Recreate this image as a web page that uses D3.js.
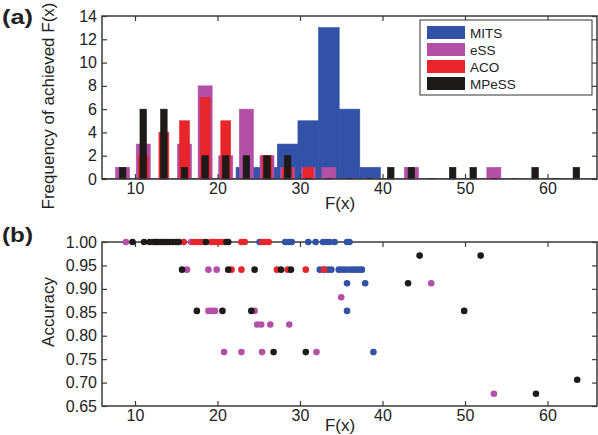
<!DOCTYPE html>
<html><head><meta charset="utf-8">
<script src="https://cdn.jsdelivr.net/npm/d3@7"></script>
<style>
body{margin:0;background:#fff}
svg{display:block}
text{font-family:"Liberation Sans",Arial,Helvetica,sans-serif;fill:#222}
</style>
</head><body>
<svg id="c" width="598" height="435"></svg>
<script>
// ---------- data ----------
const seriesNames = ["MITS", "eSS", "ACO", "MPeSS"];
const binCenters = [6, 8.5, 11, 13.5, 16, 18.5, 21, 23.5, 26, 28.5, 31, 33.5, 36, 38.5, 41, 43.5, 46, 48.5, 51, 53.5, 56, 58.5, 61, 63.5, 66];
const histMITS  = [0, 0, 0, 0, 0, 0, 0, 1, 1, 3, 5, 13, 6, 1, 0, 0, 0, 0, 0, 0, 0, 0, 0, 0, 0];
const histESS   = [0, 1, 3, 0, 3, 8, 2, 6, 2, 1, 1, 1, 0, 0, 0, 1, 0, 0, 0, 1, 0, 0, 0, 0, 0];
const histACO   = [0, 0, 2, 4, 5, 7, 5, 0, 2, 1, 1, 0, 0, 0, 0, 0, 0, 0, 0, 0, 0, 0, 0, 0, 0];
const histMPESS = [0, 1, 6, 6, 1, 2, 2, 2, 2, 2, 0, 0, 0, 0, 1, 1, 0, 1, 1, 0, 0, 1, 0, 1, 0];

const freqTicks = [0, 2, 4, 6, 8, 10, 12, 14];
const fTicks = [10, 20, 30, 40, 50, 60];
const accTicks = [0.65, 0.70, 0.75, 0.80, 0.85, 0.90, 0.95, 1.00];

// scatter: F(x) and accuracy per algorithm
const mitsF   = [25.1, 28.2, 28.6, 29.0, 31.0, 31.9, 32.8, 33.2, 33.6, 34.2, 35.7, 36.0,
                 32.4, 32.9, 33.4, 33.8, 34.7, 35.1, 35.5, 36.0, 36.4, 36.8, 37.2, 37.5,
                 35.7, 37.9, 35.7, 38.9];
const mitsAcc = [1, 1, 1, 1, 1, 1, 1, 1, 1, 1, 1, 1,
                 0.941, 0.941, 0.941, 0.941, 0.941, 0.941, 0.941, 0.941, 0.941, 0.941, 0.941, 0.941,
                 0.912, 0.912, 0.853, 0.765];
const essF    = [8.9, 16.8, 16.3, 18.9, 19.9, 45.9, 35.0, 18.9, 19.3, 19.7, 24.5,
                 24.8, 25.3, 26.4, 28.7, 20.8, 22.9, 25.4, 32.0, 53.5];
const essAcc  = [1, 1, 0.941, 0.941, 0.941, 0.912, 0.882, 0.853, 0.853, 0.853, 0.853,
                 0.824, 0.824, 0.824, 0.824, 0.765, 0.765, 0.765, 0.765, 0.676];
const acoF    = [12.5, 15.9, 17.1, 17.5, 17.9, 18.3, 19.2, 19.6, 20.0, 20.4, 20.8, 22.9, 23.3, 25.4, 25.8, 26.2,
                 21.7, 22.9, 27.2, 28.5, 30.7, 32.9];
const acoAcc  = [1, 1, 1, 1, 1, 1, 1, 1, 1, 1, 1, 1, 1, 1, 1, 1,
                 0.941, 0.941, 0.941, 0.941, 0.941, 0.941];
const mpessF  = [9.7, 11.1, 11.8, 12.3, 12.7, 13.0, 13.3, 13.6, 13.9, 14.2, 14.6, 15.0, 15.3, 18.6, 21.1, 21.3,
                 44.5, 51.9, 15.7, 21.3, 24.5, 27.7, 28.9, 43.1, 17.5, 20.6, 24.1, 49.9,
                 26.8, 30.7, 63.6, 58.6];
const mpessAcc = [1, 1, 1, 1, 1, 1, 1, 1, 1, 1, 1, 1, 1, 1, 1, 1,
                 0.971, 0.971, 0.941, 0.941, 0.941, 0.941, 0.941, 0.912, 0.853, 0.853, 0.853, 0.853,
                 0.765, 0.765, 0.706, 0.676];

// ---------- styles ----------
const colors = ["#3152a6", "#b34fa7", "#e8252b", "#1e1a1a"];
const barFrac = [1.0, 0.68, 0.48, 0.32];
const axisColor = "#3a3a3a";

const svg = d3.select("#c");
const L = 102, R = 597;
const x = d3.scaleLinear().domain([6, 66]).range([L, R]);

// ---------- panel (a) ----------
const aTop = 16, aBot = 179;
const yA = d3.scaleLinear().domain([0, 14]).range([aBot, aTop]);
const histSeries = [histMITS, histESS, histACO, histMPESS];
const binW = 2.5;

svg.append("defs").append("clipPath").attr("id", "clipA")
  .append("rect").attr("x", L).attr("y", aTop).attr("width", R - L).attr("height", aBot - aTop + 1);

const gA = svg.append("g").attr("clip-path", "url(#clipA)");
histSeries.forEach((vals, si) => {
  const w = binW * barFrac[si];
  const data = binCenters.map((c, i) => ({c, v: vals[i]}));
  gA.selectAll(null).data(data.filter(d => d.v > 0)).join("rect")
    .attr("x", d => x(d.c - w / 2))
    .attr("width", d => x(d.c + w / 2) - x(d.c - w / 2))
    .attr("y", d => yA(d.v))
    .attr("height", d => yA(0) - yA(d.v))
    .attr("fill", colors[si])
    .attr("stroke", colors[si]).attr("stroke-width", 0.6);
  gA.selectAll(null).data(data.filter(d => d.v === 0)).join("line")
    .attr("x1", d => x(d.c - w / 2)).attr("x2", d => x(d.c + w / 2))
    .attr("y1", yA(0) - 0.5).attr("y2", yA(0) - 0.5)
    .attr("stroke", colors[si]).attr("stroke-width", 1);
});

function frame(yScale, top, bot, yTickVals, yFmt) {
  const g = svg.append("g");
  g.append("rect").attr("x", L).attr("y", top).attr("width", R - L).attr("height", bot - top)
    .attr("fill", "none").attr("stroke", axisColor).attr("stroke-width", 1.5);
  const ax = g.append("g").attr("transform", `translate(0,${bot})`)
    .call(d3.axisBottom(x).tickValues(fTicks).tickSize(-5).tickPadding(4));
  const ax2 = g.append("g").attr("transform", `translate(0,${top})`)
    .call(d3.axisTop(x).tickValues(fTicks).tickSize(-5).tickFormat(""));
  const ay = g.append("g").attr("transform", `translate(${L},0)`)
    .call(d3.axisLeft(yScale).tickValues(yTickVals).tickSize(-5).tickPadding(5).tickFormat(yFmt));
  const ay2 = g.append("g").attr("transform", `translate(${R},0)`)
    .call(d3.axisRight(yScale).tickValues(yTickVals).tickSize(-5).tickFormat(""));
  [ax, ax2, ay, ay2].forEach(a => {
    a.select(".domain").remove();
    a.selectAll("line").attr("stroke", axisColor).attr("stroke-width", 1.2);
    a.selectAll("text").attr("fill", "#222").style("font-size", "16px")
      .style("font-family", '"Liberation Sans",Arial,sans-serif');
  });
  return g;
}
frame(yA, aTop, aBot, freqTicks, d3.format("d"));

// legend
const lg = svg.append("g");
lg.append("rect").attr("x", 420).attr("y", 20).attr("width", 172).attr("height", 75)
  .attr("fill", "#fff").attr("stroke", "#333").attr("stroke-width", 1);
seriesNames.forEach((n, i) => {
  const cy = 32.5 + i * 17;
  lg.append("rect").attr("x", 427).attr("y", cy - 6.5).attr("width", 38).attr("height", 13)
    .attr("fill", colors[i]);
  lg.append("text").attr("x", 470).attr("y", cy + 5).text(n).style("font-size", "13.5px");
});

// labels (a)
svg.append("text").attr("x", 2).attr("y", 24).text("(a)")
  .style("font-size", "21px").style("font-weight", "bold")
  .attr("textLength", 31).attr("lengthAdjust", "spacingAndGlyphs");
svg.append("text").attr("transform", "translate(54,106) rotate(-90)").attr("text-anchor", "middle")
  .text("Frequency of achieved F(x)").style("font-size", "17px");
svg.append("text").attr("x", 340).attr("y", 209).attr("text-anchor", "middle")
  .text("F(x)").style("font-size", "17px");

// ---------- panel (b) ----------
const bTop = 242, bBot = 406;
const yB = d3.scaleLinear().domain([0.65, 1.0]).range([bBot, bTop]);
frame(yB, bTop, bBot, accTicks, d3.format(".2f"));

const scat = [[mitsF, mitsAcc], [essF, essAcc], [acoF, acoAcc], [mpessF, mpessAcc]];
scat.forEach(([fs, accs], si) => {
  svg.append("g").selectAll("circle").data(fs.map((f, i) => ({f, a: accs[i]}))).join("circle")
    .attr("cx", d => x(d.f)).attr("cy", d => yB(d.a)).attr("r", 3.3)
    .attr("fill", colors[si]);
});

svg.append("text").attr("x", 2).attr("y", 242).text("(b)")
  .style("font-size", "21px").style("font-weight", "bold")
  .attr("textLength", 31).attr("lengthAdjust", "spacingAndGlyphs");
svg.append("text").attr("transform", "translate(54,312) rotate(-90)").attr("text-anchor", "middle")
  .text("Accuracy").style("font-size", "17px");
svg.append("text").attr("x", 340).attr("y", 431).attr("text-anchor", "middle")
  .text("F(x)").style("font-size", "17px");
</script>
</body></html>
